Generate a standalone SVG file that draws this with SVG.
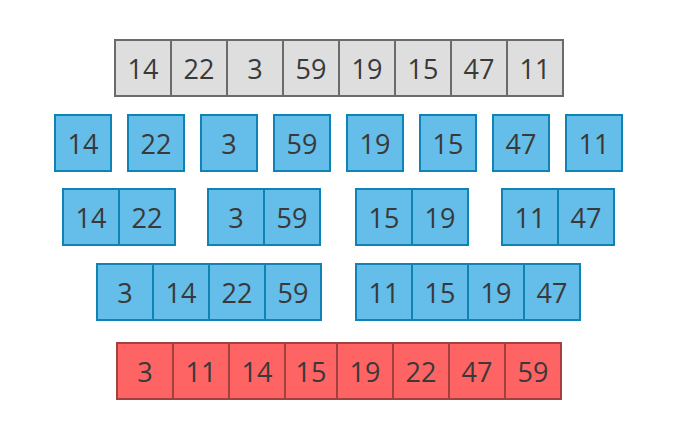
<svg xmlns="http://www.w3.org/2000/svg" width="678" height="431" viewBox="0 0 678 431">
<style>
rect{stroke-width:2}
.g{fill:#dedede;stroke:#6b6b6b}
.b{fill:#65bde9;stroke:#0f84b4}
.r{fill:#ff6464;stroke:#a23f3f}
text{font-family:"Open Sans","Liberation Sans",sans-serif;font-size:27px;fill:#393939;text-anchor:middle}
</style>
<rect width="678" height="431" fill="#ffffff" stroke="none"/>
<g id="row1">
<rect class="g" x="115" y="40" width="56" height="56"/>
<rect class="g" x="171" y="40" width="56" height="56"/>
<rect class="g" x="227" y="40" width="56" height="56"/>
<rect class="g" x="283" y="40" width="56" height="56"/>
<rect class="g" x="339" y="40" width="56" height="56"/>
<rect class="g" x="395" y="40" width="56" height="56"/>
<rect class="g" x="451" y="40" width="56" height="56"/>
<rect class="g" x="507" y="40" width="56" height="56"/>
<text x="143" y="79">14</text><text x="199" y="79">22</text><text x="255" y="79">3</text><text x="311" y="79">59</text>
<text x="367" y="79">19</text><text x="423" y="79">15</text><text x="479" y="79">47</text><text x="535" y="79">11</text>
</g>
<g id="row2">
<rect class="b" x="55" y="115" width="56" height="56"/><text x="83" y="154">14</text>
<rect class="b" x="128" y="115" width="56" height="56"/><text x="156" y="154">22</text>
<rect class="b" x="201" y="115" width="56" height="56"/><text x="229" y="154">3</text>
<rect class="b" x="274" y="115" width="56" height="56"/><text x="302" y="154">59</text>
<rect class="b" x="347" y="115" width="56" height="56"/><text x="375" y="154">19</text>
<rect class="b" x="420" y="115" width="56" height="56"/><text x="448" y="154">15</text>
<rect class="b" x="493" y="115" width="56" height="56"/><text x="521" y="154">47</text>
<rect class="b" x="566" y="115" width="56" height="56"/><text x="594" y="154">11</text>
</g>
<g id="row3">
<rect class="b" x="63" y="189" width="56" height="56"/><text x="91" y="228">14</text>
<rect class="b" x="119" y="189" width="56" height="56"/><text x="147" y="228">22</text>
<rect class="b" x="208" y="189" width="56" height="56"/><text x="236" y="228">3</text>
<rect class="b" x="264" y="189" width="56" height="56"/><text x="292" y="228">59</text>
<rect class="b" x="356" y="189" width="56" height="56"/><text x="384" y="228">15</text>
<rect class="b" x="412" y="189" width="56" height="56"/><text x="440" y="228">19</text>
<rect class="b" x="502" y="189" width="56" height="56"/><text x="530" y="228">11</text>
<rect class="b" x="558" y="189" width="56" height="56"/><text x="586" y="228">47</text>
</g>
<g id="row4">
<rect class="b" x="97" y="264" width="56" height="56"/><text x="125" y="303">3</text>
<rect class="b" x="153" y="264" width="56" height="56"/><text x="181" y="303">14</text>
<rect class="b" x="209" y="264" width="56" height="56"/><text x="237" y="303">22</text>
<rect class="b" x="265" y="264" width="56" height="56"/><text x="293" y="303">59</text>
<rect class="b" x="356" y="264" width="56" height="56"/><text x="384" y="303">11</text>
<rect class="b" x="412" y="264" width="56" height="56"/><text x="440" y="303">15</text>
<rect class="b" x="468" y="264" width="56" height="56"/><text x="496" y="303">19</text>
<rect class="b" x="524" y="264" width="56" height="56"/><text x="552" y="303">47</text>
</g>
<g id="row5">
<rect class="r" x="117" y="343" width="56" height="56"/><text x="145" y="382">3</text>
<rect class="r" x="173" y="343" width="56" height="56"/><text x="201" y="382">11</text>
<rect class="r" x="229" y="343" width="56" height="56"/><text x="257" y="382">14</text>
<rect class="r" x="285" y="343" width="52" height="56"/><text x="311" y="382">15</text>
<rect class="r" x="337" y="343" width="56" height="56"/><text x="365" y="382">19</text>
<rect class="r" x="393" y="343" width="56" height="56"/><text x="421" y="382">22</text>
<rect class="r" x="449" y="343" width="56" height="56"/><text x="477" y="382">47</text>
<rect class="r" x="505" y="343" width="56" height="56"/><text x="533" y="382">59</text>
</g>
<g id="connectors"/>
</svg>
